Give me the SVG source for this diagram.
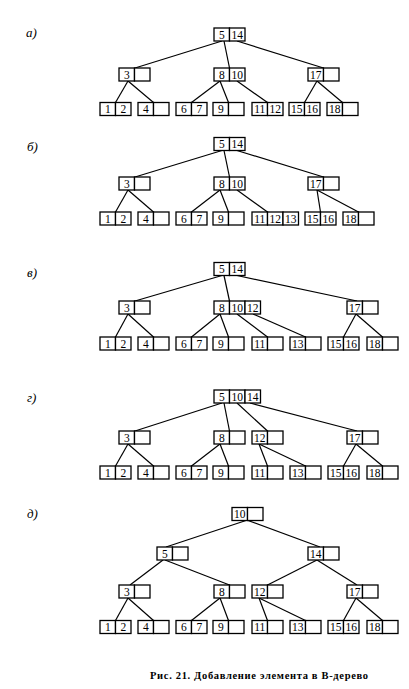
<svg xmlns="http://www.w3.org/2000/svg" width="409" height="689" viewBox="0 0 409 689">
<style>
.c{fill:#fff;stroke:#000;stroke-width:1.3}
.t{font-family:"Liberation Serif","Times New Roman",serif;font-size:11.5px;text-anchor:middle;fill:#000}
.lb{font-family:"Liberation Serif","Times New Roman",serif;font-size:13px;font-style:italic;fill:#000}
.cap{font-family:"Liberation Serif","Times New Roman",serif;font-size:10.5px;font-weight:bold;fill:#000}
.e line{stroke:#000;stroke-width:1.2}
</style>
<defs>
<g id="c2"><rect class="c" width="15.5" height="13"/><rect class="c" x="15.5" width="15.5" height="13"/></g>
<g id="c3"><use href="#c2"/><rect class="c" x="31" width="15.5" height="13"/></g>
</defs>
<rect width="409" height="689" fill="#fff"/>

<!-- labels -->
<text class="lb" x="26" y="37">а)</text>
<text class="lb" x="27" y="151">б)</text>
<text class="lb" x="27" y="277">в)</text>
<text class="lb" x="27" y="402">г)</text>
<text class="lb" x="27" y="518">д)</text>

<!-- ===== a ===== -->
<g class="e" id="a-edges">
<line x1="222" y1="41" x2="135" y2="68"/>
<line x1="224" y1="41" x2="229.5" y2="68"/>
<line x1="237" y1="41" x2="323.5" y2="68"/>
<line x1="128" y1="81" x2="115.5" y2="102.5"/>
<line x1="128" y1="81" x2="153.5" y2="102.5"/>
<line x1="220" y1="81" x2="191.5" y2="102.5"/>
<line x1="220" y1="81" x2="228.5" y2="102.5"/>
<line x1="237" y1="81" x2="267.5" y2="102.5"/>
<line x1="317" y1="81" x2="304.5" y2="102.5"/>
<line x1="317" y1="81" x2="342.5" y2="102.5"/>
</g>
<g id="a-root" transform="translate(214,28)"><use href="#c2"/><text class="t" x="7.75" y="10.5">5</text><text class="t" x="23.25" y="10.5">14</text></g>
<g id="a-n3" transform="translate(119,68)"><use href="#c2"/><text class="t" x="7.75" y="10.5">3</text></g>
<g id="a-n8" transform="translate(214,68)"><use href="#c2"/><text class="t" x="7.75" y="10.5">8</text><text class="t" x="23.25" y="10.5">10</text></g>
<g id="a-n17" transform="translate(308,68)"><use href="#c2"/><text class="t" x="7.75" y="10.5">17</text></g>
<g id="a-l1" transform="translate(100,102.5)"><use href="#c2"/><text class="t" x="7.75" y="10.5">1</text><text class="t" x="23.25" y="10.5">2</text></g>
<g id="a-l4" transform="translate(138,102.5)"><use href="#c2"/><text class="t" x="7.75" y="10.5">4</text></g>
<g id="a-l6" transform="translate(176,102.5)"><use href="#c2"/><text class="t" x="7.75" y="10.5">6</text><text class="t" x="23.25" y="10.5">7</text></g>
<g id="a-l9" transform="translate(213,102.5)"><use href="#c2"/><text class="t" x="7.75" y="10.5">9</text></g>
<g id="a-l11" transform="translate(252,102.5)"><use href="#c2"/><text class="t" x="7.75" y="10.5">11</text><text class="t" x="23.25" y="10.5">12</text></g>
<g id="a-l15" transform="translate(289,102.5)"><use href="#c2"/><text class="t" x="7.75" y="10.5">15</text><text class="t" x="23.25" y="10.5">16</text></g>
<g id="a-l18" transform="translate(327,102.5)"><use href="#c2"/><text class="t" x="7.75" y="10.5">18</text></g>

<!-- ===== б ===== -->
<g class="e" id="b-edges">
<line x1="222" y1="150.5" x2="135" y2="177"/>
<line x1="224" y1="150.5" x2="229.5" y2="177"/>
<line x1="237" y1="150.5" x2="323.5" y2="177"/>
<line x1="128" y1="190" x2="115.5" y2="212"/>
<line x1="128" y1="190" x2="153.5" y2="212"/>
<line x1="220" y1="190" x2="191.5" y2="212"/>
<line x1="220" y1="190" x2="228.5" y2="212"/>
<line x1="237" y1="190" x2="267.5" y2="212"/>
<line x1="317" y1="190" x2="320.5" y2="212"/>
<line x1="317" y1="190" x2="358.5" y2="212"/>
</g>
<g id="b-root" transform="translate(214,137.5)"><use href="#c2"/><text class="t" x="7.75" y="10.5">5</text><text class="t" x="23.25" y="10.5">14</text></g>
<g id="b-n3" transform="translate(119,177)"><use href="#c2"/><text class="t" x="7.75" y="10.5">3</text></g>
<g id="b-n8" transform="translate(214,177)"><use href="#c2"/><text class="t" x="7.75" y="10.5">8</text><text class="t" x="23.25" y="10.5">10</text></g>
<g id="b-n17" transform="translate(308,177)"><use href="#c2"/><text class="t" x="7.75" y="10.5">17</text></g>
<g id="b-l1" transform="translate(100,212)"><use href="#c2"/><text class="t" x="7.75" y="10.5">1</text><text class="t" x="23.25" y="10.5">2</text></g>
<g id="b-l4" transform="translate(138,212)"><use href="#c2"/><text class="t" x="7.75" y="10.5">4</text></g>
<g id="b-l6" transform="translate(176,212)"><use href="#c2"/><text class="t" x="7.75" y="10.5">6</text><text class="t" x="23.25" y="10.5">7</text></g>
<g id="b-l9" transform="translate(213,212)"><use href="#c2"/><text class="t" x="7.75" y="10.5">9</text></g>
<g id="b-l11" transform="translate(252,212)"><use href="#c3"/><text class="t" x="7.75" y="10.5">11</text><text class="t" x="23.25" y="10.5">12</text><text class="t" x="38.75" y="10.5">13</text></g>
<g id="b-l15" transform="translate(305,212)"><use href="#c2"/><text class="t" x="7.75" y="10.5">15</text><text class="t" x="23.25" y="10.5">16</text></g>
<g id="b-l18" transform="translate(343,212)"><use href="#c2"/><text class="t" x="7.75" y="10.5">18</text></g>

<!-- ===== в ===== -->
<g class="e" id="v-edges">
<line x1="222" y1="275.5" x2="135" y2="301"/>
<line x1="224" y1="275.5" x2="229.5" y2="301"/>
<line x1="237" y1="275.5" x2="357" y2="301"/>
<line x1="128" y1="314" x2="115.5" y2="337"/>
<line x1="128" y1="314" x2="153.5" y2="337"/>
<line x1="220" y1="314" x2="191.5" y2="337"/>
<line x1="220" y1="314" x2="228.5" y2="337"/>
<line x1="237" y1="314" x2="267.5" y2="337"/>
<line x1="253" y1="314" x2="305.5" y2="337"/>
<line x1="356" y1="314" x2="343.5" y2="337"/>
<line x1="356" y1="314" x2="382.5" y2="337"/>
</g>
<g id="v-root" transform="translate(214,262.5)"><use href="#c2"/><text class="t" x="7.75" y="10.5">5</text><text class="t" x="23.25" y="10.5">14</text></g>
<g id="v-n3" transform="translate(119,301)"><use href="#c2"/><text class="t" x="7.75" y="10.5">3</text></g>
<g id="v-n8" transform="translate(214,301)"><use href="#c3"/><text class="t" x="7.75" y="10.5">8</text><text class="t" x="23.25" y="10.5">10</text><text class="t" x="38.75" y="10.5">12</text></g>
<g id="v-n17" transform="translate(347,301)"><use href="#c2"/><text class="t" x="7.75" y="10.5">17</text></g>
<g id="v-l1" transform="translate(100,337)"><use href="#c2"/><text class="t" x="7.75" y="10.5">1</text><text class="t" x="23.25" y="10.5">2</text></g>
<g id="v-l4" transform="translate(138,337)"><use href="#c2"/><text class="t" x="7.75" y="10.5">4</text></g>
<g id="v-l6" transform="translate(176,337)"><use href="#c2"/><text class="t" x="7.75" y="10.5">6</text><text class="t" x="23.25" y="10.5">7</text></g>
<g id="v-l9" transform="translate(213,337)"><use href="#c2"/><text class="t" x="7.75" y="10.5">9</text></g>
<g id="v-l11" transform="translate(252,337)"><use href="#c2"/><text class="t" x="7.75" y="10.5">11</text></g>
<g id="v-l13" transform="translate(290,337)"><use href="#c2"/><text class="t" x="7.75" y="10.5">13</text></g>
<g id="v-l15" transform="translate(328,337)"><use href="#c2"/><text class="t" x="7.75" y="10.5">15</text><text class="t" x="23.25" y="10.5">16</text></g>
<g id="v-l18" transform="translate(367,337)"><use href="#c2"/><text class="t" x="7.75" y="10.5">18</text></g>

<!-- ===== г ===== -->
<g class="e" id="g-edges">
<line x1="222" y1="403" x2="135" y2="431"/>
<line x1="224" y1="403" x2="229.5" y2="431"/>
<line x1="237" y1="403" x2="267.5" y2="431"/>
<line x1="250" y1="403" x2="357" y2="431"/>
<line x1="128" y1="444" x2="115.5" y2="466"/>
<line x1="128" y1="444" x2="153.5" y2="466"/>
<line x1="220" y1="444" x2="191.5" y2="466"/>
<line x1="220" y1="444" x2="228.5" y2="466"/>
<line x1="259" y1="444" x2="267.5" y2="466"/>
<line x1="259" y1="444" x2="305.5" y2="466"/>
<line x1="356" y1="444" x2="343.5" y2="466"/>
<line x1="356" y1="444" x2="382.5" y2="466"/>
</g>
<g id="g-root" transform="translate(214,390)"><use href="#c3"/><text class="t" x="7.75" y="10.5">5</text><text class="t" x="23.25" y="10.5">10</text><text class="t" x="38.75" y="10.5">14</text></g>
<g id="g-n3" transform="translate(119,431)"><use href="#c2"/><text class="t" x="7.75" y="10.5">3</text></g>
<g id="g-n8" transform="translate(214,431)"><use href="#c2"/><text class="t" x="7.75" y="10.5">8</text></g>
<g id="g-n12" transform="translate(252,431)"><use href="#c2"/><text class="t" x="7.75" y="10.5">12</text></g>
<g id="g-n17" transform="translate(347,431)"><use href="#c2"/><text class="t" x="7.75" y="10.5">17</text></g>
<g id="g-l1" transform="translate(100,466)"><use href="#c2"/><text class="t" x="7.75" y="10.5">1</text><text class="t" x="23.25" y="10.5">2</text></g>
<g id="g-l4" transform="translate(138,466)"><use href="#c2"/><text class="t" x="7.75" y="10.5">4</text></g>
<g id="g-l6" transform="translate(176,466)"><use href="#c2"/><text class="t" x="7.75" y="10.5">6</text><text class="t" x="23.25" y="10.5">7</text></g>
<g id="g-l9" transform="translate(213,466)"><use href="#c2"/><text class="t" x="7.75" y="10.5">9</text></g>
<g id="g-l11" transform="translate(252,466)"><use href="#c2"/><text class="t" x="7.75" y="10.5">11</text></g>
<g id="g-l13" transform="translate(290,466)"><use href="#c2"/><text class="t" x="7.75" y="10.5">13</text></g>
<g id="g-l15" transform="translate(328,466)"><use href="#c2"/><text class="t" x="7.75" y="10.5">15</text><text class="t" x="23.25" y="10.5">16</text></g>
<g id="g-l18" transform="translate(367,466)"><use href="#c2"/><text class="t" x="7.75" y="10.5">18</text></g>

<!-- ===== д ===== -->
<g class="e" id="d-edges">
<line x1="246" y1="520.5" x2="166" y2="547"/>
<line x1="248" y1="520.5" x2="320" y2="547"/>
<line x1="163" y1="560" x2="130" y2="585"/>
<line x1="165" y1="560" x2="229.5" y2="585"/>
<line x1="317" y1="560" x2="267.5" y2="585"/>
<line x1="317" y1="560" x2="357" y2="585"/>
<line x1="128" y1="598" x2="115.5" y2="620.5"/>
<line x1="128" y1="598" x2="153.5" y2="620.5"/>
<line x1="220" y1="598" x2="191.5" y2="620.5"/>
<line x1="220" y1="598" x2="228.5" y2="620.5"/>
<line x1="259" y1="598" x2="267.5" y2="620.5"/>
<line x1="259" y1="598" x2="305.5" y2="620.5"/>
<line x1="356" y1="598" x2="343.5" y2="620.5"/>
<line x1="356" y1="598" x2="382.5" y2="620.5"/>
</g>
<g id="d-root" transform="translate(232,507.5)"><use href="#c2"/><text class="t" x="7.75" y="10.5">10</text></g>
<g id="d-n5" transform="translate(157,547)"><use href="#c2"/><text class="t" x="7.75" y="10.5">5</text></g>
<g id="d-n14" transform="translate(308,547)"><use href="#c2"/><text class="t" x="7.75" y="10.5">14</text></g>
<g id="d-n3" transform="translate(119,585)"><use href="#c2"/><text class="t" x="7.75" y="10.5">3</text></g>
<g id="d-n8" transform="translate(214,585)"><use href="#c2"/><text class="t" x="7.75" y="10.5">8</text></g>
<g id="d-n12" transform="translate(252,585)"><use href="#c2"/><text class="t" x="7.75" y="10.5">12</text></g>
<g id="d-n17" transform="translate(347,585)"><use href="#c2"/><text class="t" x="7.75" y="10.5">17</text></g>
<g id="d-l1" transform="translate(100,620.5)"><use href="#c2"/><text class="t" x="7.75" y="10.5">1</text><text class="t" x="23.25" y="10.5">2</text></g>
<g id="d-l4" transform="translate(138,620.5)"><use href="#c2"/><text class="t" x="7.75" y="10.5">4</text></g>
<g id="d-l6" transform="translate(176,620.5)"><use href="#c2"/><text class="t" x="7.75" y="10.5">6</text><text class="t" x="23.25" y="10.5">7</text></g>
<g id="d-l9" transform="translate(213,620.5)"><use href="#c2"/><text class="t" x="7.75" y="10.5">9</text></g>
<g id="d-l11" transform="translate(252,620.5)"><use href="#c2"/><text class="t" x="7.75" y="10.5">11</text></g>
<g id="d-l13" transform="translate(290,620.5)"><use href="#c2"/><text class="t" x="7.75" y="10.5">13</text></g>
<g id="d-l15" transform="translate(328,620.5)"><use href="#c2"/><text class="t" x="7.75" y="10.5">15</text><text class="t" x="23.25" y="10.5">16</text></g>
<g id="d-l18" transform="translate(367,620.5)"><use href="#c2"/><text class="t" x="7.75" y="10.5">18</text></g>

<text class="cap" x="150" y="679" textLength="218" lengthAdjust="spacing">Рис. 21. Добавление элемента в B-дерево</text>
</svg>
